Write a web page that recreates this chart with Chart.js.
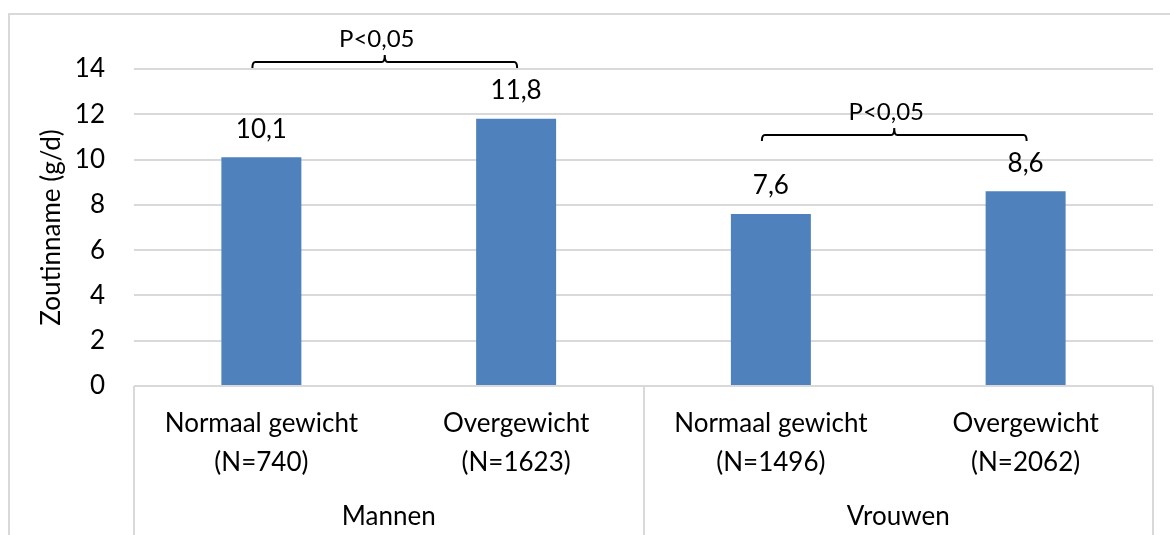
<!DOCTYPE html>
<html>
<head>
<meta charset="utf-8">
<script src="https://cdn.jsdelivr.net/npm/chart.js@4/dist/chart.umd.min.js"></script>
<style>
  html, body { margin: 0; padding: 0; background: #fff; overflow: hidden; }
  #wrap { position: relative; width: 1170px; height: 535px; }
  #frame { position: absolute; left: 8px; top: 13px; width: 1200px; height: 600px; border: 2px solid #d9d9d9; box-sizing: border-box; }
  canvas { position: absolute; left: 0; top: 0; }
</style>
</head>
<body>
<div id="wrap">
  <div id="frame"></div>
  <canvas id="zoutChart" width="1170" height="535"></canvas>
</div>
<script>
const categories = [
  ['Normaal gewicht', '(N=740)'],
  ['Overgewicht', '(N=1623)'],
  ['Normaal gewicht', '(N=1496)'],
  ['Overgewicht', '(N=2062)']
];
const groups = ['Mannen', 'Vrouwen'];
const zoutinname = [10.1, 11.8, 7.6, 8.6];
const yTicks = [0, 2, 4, 6, 8, 10, 12, 14];
const bracketPairs = [[0, 1], [2, 3]];
const bracketLevels = [14.3, 11.1];
const bracketTexts = ['P<0,05', 'P<0,05'];

const FONT = 'Lato, "Open Sans", sans-serif';

// waarden boven de staven
const valueLabels = {
  id: 'valueLabels',
  afterDatasetsDraw(chart) {
    const ctx = chart.ctx;
    const meta = chart.getDatasetMeta(0);
    ctx.save();
    ctx.font = '26px ' + FONT;
    ctx.fillStyle = '#000';
    ctx.textAlign = 'center';
    ctx.textBaseline = 'middle';
    meta.data.forEach((bar, i) => {
      ctx.fillText(zoutinname[i].toFixed(1).replace('.', ','), bar.x, bar.y - 28);
    });
    ctx.restore();
  }
};

// significantie haken
const brackets = {
  id: 'brackets',
  afterDatasetsDraw(chart) {
    const ctx = chart.ctx;
    const meta = chart.getDatasetMeta(0);
    const y = chart.scales.y;
    ctx.save();
    ctx.strokeStyle = '#000';
    ctx.lineWidth = 2;
    bracketPairs.forEach((pair, i) => {
      const x1 = meta.data[pair[0]].x - 9;
      const x2 = meta.data[pair[1]].x + 1;
      const yy = Math.round(y.getPixelForValue(bracketLevels[i]));
      const mid = (x1 + x2) / 2;
      ctx.beginPath();
      ctx.moveTo(x1, yy + 6);
      ctx.quadraticCurveTo(x1, yy, x1 + 3, yy);
      ctx.lineTo(mid - 3, yy);
      ctx.quadraticCurveTo(mid, yy, mid, yy - 7);
      ctx.quadraticCurveTo(mid, yy, mid + 3, yy);
      ctx.lineTo(x2 - 3, yy);
      ctx.quadraticCurveTo(x2, yy, x2, yy + 6);
      ctx.stroke();
      ctx.font = '24px ' + FONT;
      ctx.fillStyle = '#000';
      ctx.textAlign = 'center';
      ctx.textBaseline = 'middle';
      ctx.fillText(bracketTexts[i], mid - 8, yy - 23);
    });
    ctx.restore();
  }
};

// kaderlijnen van de categorie-as
const axisBox = {
  id: 'axisBox',
  afterDraw(chart) {
    const ctx = chart.ctx;
    const x = chart.scales.x;
    const area = chart.chartArea;
    const step = (area.right - area.left) / categories.length;
    ctx.save();
    ctx.strokeStyle = '#d9d9d9';
    ctx.lineWidth = 2;
    ctx.beginPath();
    ctx.moveTo(area.left, area.bottom);
    ctx.lineTo(area.right, area.bottom);
    for (let g = 0; g <= groups.length; g++) {
      const px = Math.round(x.getPixelForValue(g * 2) - step / 2);
      ctx.moveTo(px, area.bottom);
      ctx.lineTo(px, chart.height);
    }
    ctx.stroke();
    ctx.restore();
  }
};

const ctx = document.getElementById('zoutChart').getContext('2d');
const zoutChart = new Chart(ctx, {
  type: 'bar',
  data: {
    labels: categories,
    datasets: [{
      data: zoutinname,
      backgroundColor: '#4F81BD',
      borderWidth: 0,
      barPercentage: 0.314,
      categoryPercentage: 1
    }]
  },
  options: {
    responsive: false,
    animation: false,
    devicePixelRatio: 1,
    layout: { padding: { top: 69, right: 17, left: 0, bottom: 0 } },
    plugins: { legend: { display: false }, tooltip: { enabled: false } },
    scales: {
      x: {
        offset: true,
        grid: { display: false },
        border: { display: false },
        ticks: {
          color: '#000',
          font: { family: FONT, size: 26, lineHeight: 1.5 },
          padding: 10,
          maxRotation: 0,
          autoSkip: false
        },
        afterFit(scale) { scale.height = 97; }
      },
      x2: {
        type: 'category',
        labels: groups,
        position: 'bottom',
        offset: true,
        grid: { display: false },
        border: { display: false },
        ticks: {
          color: '#000',
          font: { family: FONT, size: 26 },
          padding: 10,
          maxRotation: 0
        },
        afterFit(scale) { scale.height = 52; }
      },
      y: {
        min: 0,
        max: 14,
        afterBuildTicks(scale) { scale.ticks = yTicks.map(v => ({ value: v })); },
        grid: { color: '#d9d9d9', lineWidth: 2, drawTicks: false },
        border: { display: false },
        ticks: {
          color: '#000',
          font: { family: FONT, size: 26 },
          padding: 29
        },
        title: {
          display: true,
          text: 'Zoutinname (g/d)',
          color: '#000',
          font: { family: FONT, size: 26 },
          padding: { top: 36, bottom: 0 }
        },
        afterFit(scale) { scale.width = 134; }
      }
    }
  },
  plugins: [valueLabels, brackets, axisBox]
});
</script>
</body>
</html>
